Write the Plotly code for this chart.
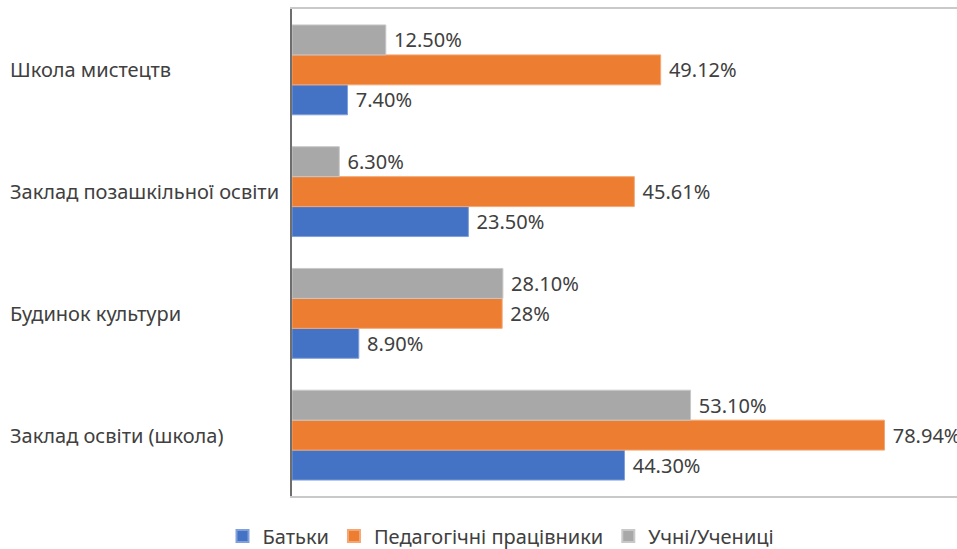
import plotly.graph_objects as go

# Categories listed bottom-to-top (Plotly category axis starts at the bottom)
categories = ["Заклад освіти (школа)", "Будинок культури",
              "Заклад позашкільної освіти", "Школа мистецтв"]

series_names = ["Батьки", "Педагогічні працівники", "Учні/Учениці"]
batky = [44.30, 8.90, 23.50, 7.40]
pedagogy = [78.94, 28.0, 45.61, 49.12]
uchni = [53.10, 28.10, 6.30, 12.50]

batky_labels = ["44.30%", "8.90%", "23.50%", "7.40%"]
pedagogy_labels = ["78.94%", "28%", "45.61%", "49.12%"]
uchni_labels = ["53.10%", "28.10%", "6.30%", "12.50%"]

colors = ["#4472C4", "#ED7D31", "#A8A8A8"]
edge_colors = ["#7FA0DA", "#F4A774", "#C8C8C8"]

FONT = "Noto Sans"
TXT = "#404040"
FS = 20

fig = go.Figure()
for name, vals, labels, c, ec in zip(series_names, [batky, pedagogy, uchni],
                                     [batky_labels, pedagogy_labels, uchni_labels],
                                     colors, edge_colors):
    fig.add_trace(go.Bar(
        y=categories, x=vals, name=name, orientation="h",
        marker=dict(color=c, line=dict(color=ec, width=1)),
        text=["\u00a0" + t for t in labels], textposition="outside",
        constraintext="none",
        textfont=dict(family=FONT, size=FS, color=TXT),
    ))

W, H = 957, 549
L, R, T, B = 292, 0, 9, 53
pw = W - L - R
ph = H - T - B

for cat in categories:
    fig.add_annotation(
        x=(8 - L) / pw, xref="paper", xanchor="left",
        y=cat, yref="y", yanchor="middle",
        text=cat, showarrow=False,
        font=dict(family=FONT, size=FS, color=TXT),
    )

fig.update_layout(
    width=W, height=H,
    margin=dict(l=L, r=R, t=T, b=B, autoexpand=False),
    paper_bgcolor="white", plot_bgcolor="white",
    barmode="group", bargap=0.262, bargroupgap=0,
    showlegend=True,
    legend=dict(orientation="h", x=(501 - L) / pw, xanchor="center",
                y=-(536 - (H - B)) / ph, yanchor="middle",
                maxheight=200,
                font=dict(family=FONT, size=FS, color=TXT),
                itemsizing="constant", traceorder="normal",
                tracegroupgap=0),
    xaxis=dict(range=[0, 88.6], showgrid=False, zeroline=False,
               showticklabels=False, showline=True, mirror=True,
               linecolor="#C9C9C9", linewidth=2, ticks=""),
    yaxis=dict(categoryorder="array", categoryarray=categories,
               showgrid=False, showticklabels=False, showline=True,
               linecolor="#6E6E6E", linewidth=2, ticks=""),
)

fig.write_html("out.html",
               config={"displayModeBar": False},
               post_script="document.body.style.margin='0';document.body.style.overflow='hidden';")
